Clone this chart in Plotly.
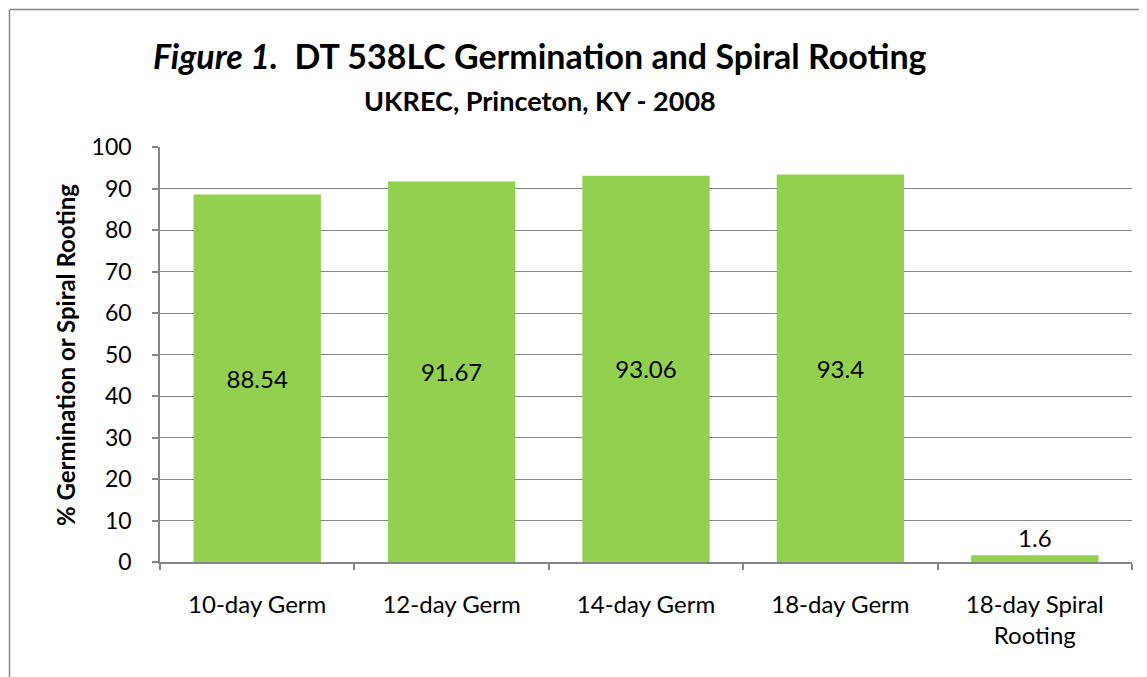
import plotly.graph_objects as go

categories = ["10-day Germ", "12-day Germ", "14-day Germ", "18-day Germ", "18-day Spiral<br>Rooting"]
values = [88.54, 91.67, 93.06, 93.4, 1.6]
labels = ["88.54", "91.67", "93.06", "93.4", "1.6"]
y_ticks = [0, 10, 20, 30, 40, 50, 60, 70, 80, 90, 100]

FONT = "Lato, 'Open Sans', sans-serif"
GREEN = "#92D050"
GRAY = "#868686"

OFF = 8  # page body margin
W, H = 1147 - OFF, 677 - OFF
L, R, T, B = 160 - OFF, 15, 147 - OFF, 115
pw, ph = W - L - R, H - T - B

def px_x(px):
    return (px - OFF - L) / pw

def px_y(py):
    return (H - B - (py - OFF)) / ph

fig = go.Figure(go.Bar(
    x=categories, y=values,
    marker=dict(color=GREEN, line=dict(width=0)),
    text=labels,
    textposition=["inside", "inside", "inside", "inside", "outside"],
    insidetextanchor="middle",
    textfont=dict(family=FONT, size=24, color="black"),
    outsidetextfont=dict(family=FONT, size=24, color="black"),
    cliponaxis=False,
    width=0.655,
))

fig.update_layout(
    width=W, height=H,
    margin=dict(l=L, r=R, t=T, b=B),
    paper_bgcolor="white", plot_bgcolor="white",
    showlegend=False,
    font=dict(family=FONT, color="black"),
    xaxis=dict(
        showline=True, linecolor=GRAY, linewidth=1.5,
        ticks="outside", ticklen=6, tickcolor=GRAY, tickwidth=1.5,
        tickson="boundaries", showgrid=False,
        ticklabelstandoff=20,
        tickfont=dict(family=FONT, size=24, color="black"),
    ),
    yaxis=dict(
        range=[0, 100], tickvals=y_ticks,
        showline=True, linecolor=GRAY, linewidth=1.5,
        ticks="outside", ticklen=6, tickcolor=GRAY, tickwidth=1.5,
        showgrid=True, gridcolor=GRAY, gridwidth=1.2,
        zeroline=False,
        ticklabelstandoff=16,
        tickfont=dict(family=FONT, size=23, color="black"),
    ),
    bargap=0.345,
)

fig.add_annotation(
    xref="paper", yref="paper", x=px_x(65), y=px_y(355),
    text="<b>% Germination or Spiral Rooting</b>", textangle=-90,
    showarrow=False, xanchor="center", yanchor="middle",
    font=dict(family=FONT, size=24, color="black"),
)
fig.add_annotation(
    xref="paper", yref="paper", x=px_x(540), y=px_y(55),
    text="<b><i>Figure 1.</i>  DT 538LC Germination and Spiral Rooting</b>",
    showarrow=False, xanchor="center", yanchor="middle",
    font=dict(family=FONT, size=34, color="black"),
)
fig.add_annotation(
    xref="paper", yref="paper", x=px_x(540), y=px_y(100),
    text="<b>UKREC, Princeton, KY - 2008</b>",
    showarrow=False, xanchor="center", yanchor="middle",
    font=dict(family=FONT, size=27, color="black"),
)

# chart-area border (top and left edges visible in the reference)
fig.add_shape(
    type="line", xref="paper", yref="paper",
    x0=px_x(9.5), x1=px_x(1160), y0=px_y(9.5), y1=px_y(9.5),
    line=dict(color=GRAY, width=1.5), layer="below",
)
fig.add_shape(
    type="line", xref="paper", yref="paper",
    x0=px_x(9.5), x1=px_x(9.5), y0=px_y(9.5), y1=px_y(690),
    line=dict(color=GRAY, width=1.5), layer="below",
)

fig.write_html("out.html")
